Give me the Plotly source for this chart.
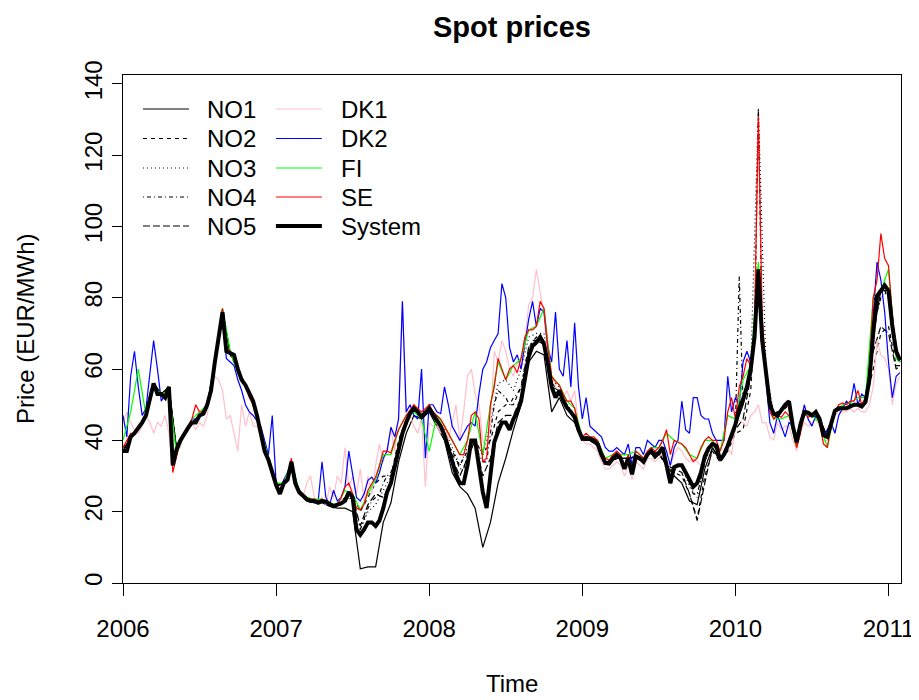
import numpy as np
import plotly.graph_objects as go

# time axis: 0.025-year steps (fine) and every other step (coarse)
t_fine = np.round(2006 + 0.025 * np.arange(204), 3)
t_coarse = np.concatenate([t_fine[0::2], t_fine[-1:]])

year_ticks = [2006, 2007, 2008, 2009, 2010, 2011]
price_ticks = [0, 20, 40, 60, 80, 100, 120, 140]

# ---- fine-grid series (204 values) ----
system = [
    37, 37, 41, 42, 43.5, 45, 47, 52, 56, 53,
    53, 52, 55, 33, 37.5, 40, 42, 43.5, 45, 45,
    47, 47.5, 50, 54, 62, 70, 76, 65, 64.5, 64,
    60, 57, 55.5, 53.5, 51, 47, 42, 37, 34.5, 31,
    27.5, 25, 28, 29, 34, 28, 25.5, 24.5, 23.5, 23,
    23, 22.5, 23, 22.8, 22, 21.5, 22, 22.3, 23, 25.5,
    24, 15, 13.5, 15, 17, 17, 16, 17.5, 21, 25.5,
    28, 33, 38, 42, 45, 47.6, 49, 48, 46.6, 48,
    49, 47.3, 45.8, 44, 41.5, 37.5, 34, 30.5, 28, 28,
    33, 40, 40, 33, 25.5, 21, 30, 39.5, 42.5, 45,
    45, 43, 46, 48, 51, 57, 63.5, 66.5, 67.5, 69,
    67, 61.5, 55, 52, 54, 51.2, 49.2, 48, 46.5, 43,
    40.5, 40.7, 40.5, 40, 39, 36, 33.7, 33.5, 35, 36,
    35, 32, 35, 30.5, 35.5, 35, 34, 36, 37, 35.5,
    36.5, 38, 33, 28, 32.5, 33, 33, 31, 29, 27,
    28, 31, 35.5, 37.8, 39, 38.5, 34.5, 36, 38.5, 41.5,
    44.5, 49, 51.5, 55, 60, 69, 88, 68, 58, 50,
    47.5, 47, 48.5, 50, 51, 44, 39.5, 44.5, 48, 47.8,
    47, 48, 46, 41.5, 41, 45, 48.3, 49, 49, 49,
    49.5, 50, 50, 49.5, 50.8, 57, 70, 80.5, 82, 83.5,
    82, 72, 65, 62.5,
]

se = [
    38, 40, 42, 42, 44, 45.5, 47, 52, 56, 53,
    53, 52, 54, 31, 36, 40, 42, 44, 46, 50,
    48, 48, 50, 55, 62, 70, 77, 66, 65, 64,
    59, 57, 55, 52, 50, 46, 43, 37, 35, 31,
    28, 26, 28, 30, 35, 28, 26, 25, 24, 23.5,
    23.5, 23, 23.5, 23, 22.5, 22, 22, 24, 27, 28,
    25, 21, 20.5, 22, 26, 28, 29.7, 33, 37, 37,
    36.5, 40, 43, 45, 47, 48.5, 50, 49, 48, 49,
    50, 48, 47, 46, 44, 42, 40, 38, 36, 36,
    40, 47, 48, 46, 34, 35, 50, 55, 63, 60,
    57, 60, 61, 59, 63, 69, 71, 71, 72, 79,
    77, 66, 58, 56.5, 55.5, 53, 51, 51, 49, 44,
    41, 42, 41, 41, 40, 37, 35, 34.5, 36, 37,
    36, 33, 36, 32, 37, 36, 35, 37, 38, 37,
    38, 40, 43, 36, 40, 39.5, 39, 38, 36, 34,
    35, 38, 40, 41, 40, 40, 37, 40, 48, 52,
    46, 55, 58, 63, 61, 72, 131, 74, 60, 48,
    46, 47, 46.5, 48, 47, 43, 38, 42, 47.5, 46.5,
    47, 47.5, 45, 39, 38, 44, 48, 50, 50.5, 50,
    51, 51, 54, 50, 52, 60, 80, 85, 98, 91,
    89, 75, 66, 63,
]

dk2 = [
    47, 41, 58, 65, 55, 47, 49, 58, 68, 60,
    51, 53, 54, 33, 37, 40, 42, 44, 46, 46,
    47, 48, 50, 55, 62, 67, 76, 63, 62, 61,
    57, 54, 50, 48, 47, 45.5, 44, 40, 36, 47,
    28, 26, 29, 31, 34, 29, 26, 25, 24, 23.5,
    23, 23, 34, 24, 22, 26, 23, 24, 27, 37,
    31, 24, 23, 25, 28.8, 29.7, 28, 31, 35, 37,
    43.7, 41, 46, 79, 48, 50, 47, 46, 60, 35,
    50, 50, 48, 47.5, 55, 50, 44, 42, 40, 42,
    44, 45, 44, 53, 60, 62, 66, 68, 70, 84,
    80, 66, 62, 64, 60, 67, 74, 79, 72, 77,
    76, 66, 62, 76, 60, 58, 68, 55, 73, 55,
    46, 52, 44, 43, 42, 41, 38, 37, 37, 38,
    37, 36, 39, 33, 38, 38, 36, 40, 39, 38,
    40, 40, 37, 33, 38, 40, 51, 43, 42, 52,
    52, 47, 46, 46, 42, 40, 40, 40, 58, 48,
    52, 50, 62, 65, 62, 70, 86, 70, 57, 45,
    42, 47, 44, 41, 45, 44, 39, 44, 50, 46,
    44, 47, 45, 41, 43, 45, 42, 47, 49, 51,
    50, 56, 50, 53, 52, 58, 75, 90, 85, 76,
    62, 52, 58, 59,
]

dk1 = [
    45, 48, 45, 43, 42, 44, 47, 45, 42, 45,
    44, 47, 42, 33, 37, 38, 42, 44, 45, 43,
    45, 44, 47, 55, 58, 57, 54, 46, 47, 42,
    37, 50, 44, 48, 44, 44, 41, 38, 34, 31,
    28, 26, 28, 31, 33, 27, 25, 24, 28, 30,
    24, 23, 24, 22, 27, 24, 30, 28, 38, 27,
    30, 25, 32, 23, 30, 25, 33, 39, 34, 38,
    43, 37, 47, 79, 45, 47, 44, 42, 46, 27,
    45, 44, 44, 42, 44, 40, 45, 50, 40, 48,
    58, 60, 53, 50, 40, 38, 45, 65, 62, 68,
    65, 60, 58, 62, 60, 68, 78, 80, 88, 82,
    75, 62, 58, 55, 54, 52, 54, 51, 54, 44,
    40, 39, 39, 38, 37, 34, 32, 32, 33, 34,
    33, 30, 33, 29, 34, 33, 32, 35, 35, 34,
    35, 37, 34, 33, 36, 38, 37, 35, 34, 35,
    34, 33, 35, 37, 39, 38, 34, 37, 38, 36,
    44, 45.6, 45, 44, 47, 48, 50, 45, 45, 41,
    40, 45, 43, 44, 44, 40, 37, 43, 45, 44,
    45, 46, 44, 40, 40, 44, 47, 48, 48, 48,
    49, 48, 49, 48, 48, 50, 55, 68, 64, 63,
    60, 50, 56, 58,
]

no4 = [
    37, 37, 41, 42, 43.5, 45, 47, 52, 56, 53,
    53, 52, 55, 33, 37.5, 40, 42, 43.5, 45, 45,
    47, 47.5, 50, 54, 62, 70, 76, 65, 64.5, 64,
    60, 57, 55.5, 53.5, 51, 47, 42, 37, 34.5, 31,
    27.5, 25, 28, 29, 34, 28, 25.5, 24.5, 23.5, 23,
    23, 22.5, 23, 22.8, 22, 21.5, 22, 22.3, 23, 25.5,
    24, 16, 15, 18, 21, 23, 24, 25, 28, 30,
    31, 34, 38, 42, 45, 47.6, 49, 48, 46.6, 48,
    49, 47.3, 45.8, 44, 42, 39, 37, 35, 32, 32,
    36, 40, 40, 36, 34, 34, 42, 50, 54, 53,
    52, 50, 52, 53, 55, 61, 66, 68, 68, 69,
    67, 62, 56, 53, 54, 51.2, 49.2, 48, 46.5, 43,
    40.5, 40.7, 40.5, 40, 39, 36, 33.7, 33.5, 35, 36,
    35, 32, 35, 30.5, 35.5, 35, 34, 36, 37, 35.5,
    36.5, 38, 33, 28, 32.5, 33, 33, 31, 28, 25,
    25, 29, 34, 37, 39, 38.5, 34.5, 36, 38.5, 41.5,
    44.5, 86, 50, 55, 60, 69, 133, 68, 58, 50,
    47.5, 47, 48.5, 50, 51, 44, 39.5, 44.5, 48, 47.8,
    47, 48, 46, 41.5, 41, 45, 48.3, 49, 49, 49,
    49.5, 50, 50, 49.5, 50.8, 57, 68, 76, 80, 82,
    80, 70, 64, 62,
]

# ---- coarse-grid series (103 values) ----
no1 = [
    37, 41, 43.5, 47, 56, 53, 55, 37.5, 42, 45, 47, 50, 62, 76, 64.5, 60, 55.5, 51, 42, 34.5,
    27.5, 28, 33, 25, 23, 22.5, 22.5, 21.5, 21, 21, 20, 4, 4.5, 4.5, 17, 22.5, 34, 42, 47, 46,
    48, 44, 40, 31, 27, 25, 21, 10, 17, 28, 35, 43, 50, 62, 65, 64, 48, 52, 47, 45,
    40, 40, 38.5, 33.5, 35, 35, 35, 35.5, 34, 37, 36.5, 33, 30, 28, 23, 22, 32, 38, 34, 38,
    44, 50, 58, 85, 57, 47, 48, 50.5, 39.5, 48, 47, 46, 41, 48, 49, 49.5, 50, 50.5, 70, 82,
    82, 65, 62,
]
no2 = [
    38, 41, 43, 46.5, 55, 53, 54.5, 38, 42, 45, 47, 50, 62, 77, 64, 60, 55, 51, 42, 34,
    27, 28, 33, 25, 23.5, 23, 23, 22, 22, 24, 25, 20, 24, 28, 30, 30, 40, 46, 49, 46,
    49, 46, 42, 36, 33, 37, 40, 36, 40, 48, 50, 50, 55, 66, 69, 68, 56, 54, 49, 46,
    40, 40, 38.5, 33, 34.5, 35, 35, 35, 34, 37, 36, 33, 31, 30, 25, 18, 30, 37, 34, 37,
    42, 43, 54, 88, 58, 47, 48, 50, 40, 48, 47, 46, 41, 48, 49, 49.5, 50, 50.5, 60, 70,
    72, 61, 61,
]
no3 = [
    37, 41, 43.5, 47, 56, 53, 55, 37.5, 42, 45, 47, 50, 62, 77, 65, 60, 55.5, 51, 42, 34.5,
    27.5, 28, 34, 25.5, 23.5, 23, 23, 22, 22, 23.5, 24, 15, 20, 22, 26, 30, 38, 45, 49, 46.6,
    49, 46, 43, 38, 33, 38, 40, 36, 45, 56, 57, 54, 60, 69, 70, 70, 57, 55, 50, 47,
    40.5, 40.5, 39, 33.7, 35, 35, 35, 35.5, 34, 37, 36.5, 33, 32.5, 33, 27, 24, 34, 39, 34.5, 38.5,
    44.5, 50, 60, 133, 60, 47.5, 48.5, 51, 39.5, 48, 47, 46, 41, 48.3, 49, 49.5, 50, 50.8, 72, 80,
    82, 65, 62.5,
]
no5 = [
    37, 41, 43.5, 47, 56, 53, 55, 37.5, 42, 45, 47, 50, 62, 76, 64.5, 60, 55.5, 51, 42, 34.5,
    27.5, 28, 34, 25.5, 23.5, 23, 23, 22, 22, 23, 24, 16, 22, 25, 24, 28, 38, 45, 49, 46.6,
    49, 45.8, 41.5, 35, 30, 35, 40, 30, 35, 45, 47, 47, 52, 64, 68, 67, 55, 54, 49.2, 46.5,
    40.5, 40.5, 39, 33.7, 35, 35, 35, 35.5, 34, 37, 36.5, 33, 32, 31, 25, 17.5, 28, 38, 34.5, 38.5,
    43, 46, 58, 86, 58, 47.5, 48.5, 51, 39.5, 48, 47, 46, 41, 48.3, 49, 49.5, 50, 50.8, 65, 72,
    70, 60, 61,
]
fi = [
    40, 48, 60, 47, 55, 53, 54, 36, 42, 46, 48, 50, 62, 77, 65, 59, 55, 50, 43, 35,
    28, 28, 34, 26, 24, 23.5, 23.5, 22.5, 22, 26, 25, 20.5, 25, 29, 36, 36, 43, 47, 48, 46,
    37, 47, 44, 40, 36, 40, 48, 36, 50, 62, 57, 61, 63, 71, 72, 77, 58, 55.5, 51, 49,
    41, 41, 40, 35, 36, 36, 36, 37, 35, 38, 38, 42, 40, 39, 36, 35, 40, 40, 37, 47,
    46, 57, 61, 90, 58, 46, 46, 47, 38, 47, 47, 45, 38, 48, 50, 50.5, 52, 52, 80, 82,
    88, 63, 62,
]

for s in (system, se, dk2, dk1, no4):
    assert len(s) == len(t_fine), len(s)
for s in (no1, no2, no3, no5, fi):
    assert len(s) == len(t_coarse), len(s)

series = [
    ("NO1", t_coarse, no1, "black", 1.2, "solid"),
    ("NO2", t_coarse, no2, "black", 1.2, "4px,4px"),
    ("NO3", t_coarse, no3, "black", 1.2, "1px,3px"),
    ("NO4", t_fine, no4, "black", 1.2, "1px,3px,4px,3px"),
    ("NO5", t_coarse, no5, "black", 1.2, "7px,3px"),
    ("DK1", t_fine, dk1, "#FFC0CB", 1.2, "solid"),
    ("DK2", t_fine, dk2, "#0000FF", 1.2, "solid"),
    ("FI", t_coarse, fi, "#00FF00", 1.2, "solid"),
    ("SE", t_fine, se, "#FF0000", 1.2, "solid"),
    ("System", t_fine, system, "black", 4, "solid"),
]

fig = go.Figure()
for name, tt, vv, col, w, dash in series:
    fig.add_trace(go.Scatter(x=tt, y=vv, mode="lines", name=name,
                             line=dict(color=col, width=w, dash=dash),
                             showlegend=False))

# the page body adds an 8px offset, so the figure is 8px smaller and
# positions below are given in window pixels minus that offset
OFF = 8
W, H = 919 - OFF, 700 - OFF
ML, MT = 123 - OFF, 75 - OFF
MR = W - (901.5 - OFF)
MB = H - (583 - OFF)
PW, PH = W - ML - MR, H - MT - MB
FONT = "Liberation Sans, Arial, sans-serif"
FS = 24

def px(x):
    return (x - OFF - ML) / PW

def py(y):
    return (H - MB - (y - OFF)) / PH

shapes = []
annotations = []
rows = [109, 138.5, 168, 197, 226]
legend_cols = [
    (143, 189, 205, series[:5]),
    (276, 322, 339, series[5:]),
]
for x0, x1, xt, items in legend_cols:
    for r, (name, _, _, col, w, dash) in zip(rows, items):
        shapes.append(dict(type="line", xref="paper", yref="paper",
                           x0=px(x0), x1=px(x1), y0=py(r), y1=py(r),
                           line=dict(color=col, width=w, dash=dash)))
        annotations.append(dict(text=name, xref="paper", yref="paper",
                                x=px(xt), y=py(r), xanchor="left", yanchor="middle",
                                showarrow=False, font=dict(size=FS, color="black", family=FONT)))

annotations.append(dict(text="Time", xref="paper", yref="paper", x=0.5, y=py(683),
                        xanchor="center", yanchor="middle", showarrow=False,
                        font=dict(size=FS, color="black", family=FONT)))
annotations.append(dict(text="Price (EUR/MWh)", xref="paper", yref="paper", x=px(25), y=0.5,
                        xanchor="center", yanchor="middle", textangle=-90, showarrow=False,
                        font=dict(size=FS, color="black", family=FONT)))

fig.update_layout(
    width=W, height=H,
    margin=dict(l=ML, r=MR, t=MT, b=MB, autoexpand=False),
    paper_bgcolor="white", plot_bgcolor="white",
    font=dict(family=FONT, size=FS, color="black"),
    title=dict(text="<b>Spot prices</b>", x=0.5, xref="paper", y=1 - (27 - OFF) / H,
               yref="container", xanchor="center", yanchor="middle", automargin=False,
               font=dict(size=29, family=FONT, color="black")),
    shapes=shapes, annotations=annotations,
    xaxis=dict(range=[2006, 2006 + PW / 153.2], tickvals=year_ticks,
               ticktext=[str(y) for y in year_ticks], ticks="outside", ticklen=12,
               tickcolor="black", showline=True, linecolor="black", linewidth=1,
               mirror=True, showgrid=False, zeroline=False, automargin=False,
               ticklabelstandoff=12, tickfont=dict(size=FS, family=FONT)),
    yaxis=dict(range=[0, 142.5], tickvals=price_ticks,
               ticktext=[str(v) for v in price_ticks], tickangle=-90,
               ticks="outside", ticklen=10, tickcolor="black", showline=True,
               linecolor="black", linewidth=1, mirror=True, showgrid=False,
               zeroline=False, automargin=False, tickfont=dict(size=FS, family=FONT)),
)

fig.write_html("out.html")
